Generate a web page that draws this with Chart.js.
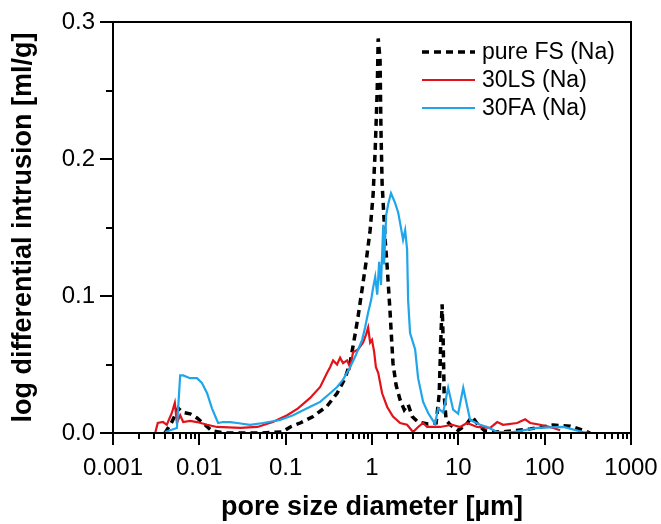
<!DOCTYPE html>
<html>
<head>
<meta charset="utf-8">
<script src="https://cdn.jsdelivr.net/npm/chart.js@4.4.1/dist/chart.umd.min.js"></script>
<style>
  html, body { margin: 0; padding: 0; background: #fff; }
  #wrap { width: 661px; height: 524px; }
</style>
</head>
<body>
<div id="wrap"><canvas id="poreChart" width="661" height="524"></canvas></div>
<script>
// pore size diameter [µm] and log differential intrusion [ml/g]
var fsDiameter = [0.0040, 0.0048, 0.0057, 0.0065, 0.0078, 0.0094, 0.0116, 0.014, 0.020, 0.050, 0.091, 0.113, 0.147, 0.208, 0.302, 0.394, 0.488, 0.557, 0.637, 0.690, 0.768, 0.855, 0.951, 1.03, 1.09, 1.15, 1.18, 1.24, 1.27, 1.31, 1.42, 1.50, 1.62, 1.75, 1.90, 2.12, 2.36, 2.62, 2.92, 3.42, 4.47, 5.53, 6.0, 6.32, 6.49, 6.67, 6.85, 7.22, 8.04, 9.95, 12.3, 14.4, 16.9, 20.4, 30.5, 68, 125, 198, 294, 336];
var fsIntrusion = [0, 0.008, 0.018, 0.015, 0.014, 0.011, 0.006, 0.0015, 0, 0, 0.0007, 0.0044, 0.0073, 0.012, 0.0197, 0.029, 0.040, 0.051, 0.072, 0.085, 0.105, 0.125, 0.148, 0.174, 0.207, 0.251, 0.288, 0.272, 0.221, 0.182, 0.141, 0.121, 0.088, 0.051, 0.035, 0.024, 0.017, 0.021, 0.012, 0.008, 0.0066, 0.0073, 0.028, 0.075, 0.094, 0.068, 0.028, 0.0095, 0.006, 0.002, 0.006, 0.012, 0.006, 0.0015, 0.0007, 0.003, 0.0058, 0.005, 0.0015, 0];

var lsDiameter = [0.0031, 0.0033, 0.0038, 0.0042, 0.0048, 0.0052, 0.0055, 0.0060, 0.0065, 0.0078, 0.0094, 0.0123, 0.016, 0.030, 0.047, 0.071, 0.104, 0.139, 0.192, 0.251, 0.302, 0.327, 0.354, 0.394, 0.427, 0.462, 0.514, 0.557, 0.604, 0.690, 0.789, 0.855, 0.902, 0.951, 1.00, 1.06, 1.11, 1.18, 1.31, 1.50, 1.75, 2.12, 2.55, 2.99, 3.42, 3.91, 4.35, 6.15, 8.47, 10.5, 12.6, 16.5, 23.4, 28.2, 33.0, 48.0, 59.4, 68, 88.7, 116, 151];
var lsIntrusion = [0.0007, 0.0073, 0.008, 0.006, 0.0146, 0.022, 0.0073, 0.013, 0.008, 0.0088, 0.008, 0.006, 0.0044, 0.0037, 0.0044, 0.008, 0.013, 0.018, 0.0256, 0.0336, 0.044, 0.048, 0.053, 0.050, 0.055, 0.051, 0.053, 0.048, 0.059, 0.061, 0.066, 0.072, 0.077, 0.066, 0.068, 0.059, 0.048, 0.044, 0.029, 0.019, 0.012, 0.0073, 0.006, 0.0007, 0.0044, 0.0073, 0.0044, 0.0044, 0.006, 0.0044, 0.0073, 0.0044, 0.0037, 0.008, 0.006, 0.0073, 0.010, 0.0073, 0.006, 0.0044, 0.002];

var faDiameter = [0.0040, 0.0046, 0.0055, 0.0060, 0.0065, 0.0078, 0.0094, 0.0107, 0.0123, 0.014, 0.0165, 0.0188, 0.0227, 0.0274, 0.0387, 0.0547, 0.086, 0.122, 0.177, 0.251, 0.327, 0.394, 0.462, 0.557, 0.637, 0.768, 0.832, 0.902, 0.977, 1.03, 1.09, 1.15, 1.21, 1.27, 1.35, 1.38, 1.46, 1.54, 1.66, 1.85, 2.01, 2.12, 2.29, 2.42, 2.55, 2.62, 2.76, 3.16, 3.42, 3.91, 4.47, 5.38, 5.83, 6.67, 7.62, 8.71, 9.95, 11.4, 12.6, 13.7, 17.9, 21.6, 28.2, 43.2, 81.8, 164, 279, 336];
var faIntrusion = [0.0007, 0.002, 0.0037, 0.042, 0.042, 0.040, 0.040, 0.0366, 0.029, 0.018, 0.0073, 0.008, 0.008, 0.0073, 0.006, 0.0073, 0.0095, 0.013, 0.018, 0.0227, 0.029, 0.0336, 0.039, 0.048, 0.0556, 0.068, 0.077, 0.088, 0.097, 0.106, 0.114, 0.101, 0.125, 0.108, 0.152, 0.123, 0.159, 0.167, 0.175, 0.168, 0.161, 0.153, 0.141, 0.148, 0.134, 0.097, 0.073, 0.061, 0.040, 0.0227, 0.0146, 0.0066, 0.018, 0.015, 0.033, 0.017, 0.014, 0.033, 0.020, 0.0095, 0.006, 0.0044, 0.0007, 0.0007, 0.0037, 0.0044, 0.0007, 0];

var seriesLabels = ['pure FS (Na)', '30LS (Na)', '30FA (Na)'];
var xTitle = 'pore size diameter [µm]';
var yTitle = 'log differential intrusion [ml/g]';

var colors = {
    black: '#000000',
    red:   '#e2121a',
    blue:  '#1fa5ea'
};

var FONT = '"Liberation Sans", Arial, sans-serif';

function toPoints(xs, ys) {
    return xs.map(function(x, i) { return {x: x, y: ys[i]}; });
}

function isDecade(v) {
    var l = Math.log10(v);
    return Math.abs(l - Math.round(l)) < 1e-6;
}

function isTenth(v) {
    return Math.abs(v * 10 - Math.round(v * 10)) < 1e-6;
}

// frame, outward ticks and the legend box
var framePlugin = {
    id: 'frame',
    afterDraw: function(chart) {
        var ctx = chart.ctx;
        var a = chart.chartArea;
        var xs = chart.scales.x, ys = chart.scales.y;
        ctx.save();
        ctx.strokeStyle = '#000';
        ctx.lineWidth = 2;
        ctx.strokeRect(a.left, a.top, a.right - a.left, a.bottom - a.top);

        ctx.beginPath();
        xs.ticks.forEach(function(t) {
            var px = Math.round(xs.getPixelForValue(t.value));
            var len = isDecade(t.value) ? 12 : 6;
            ctx.moveTo(px, a.bottom);
            ctx.lineTo(px, a.bottom + len);
        });
        ys.ticks.forEach(function(t) {
            var py = Math.round(ys.getPixelForValue(t.value));
            var len = isTenth(t.value) ? 13 : 7;
            ctx.moveTo(a.left, py);
            ctx.lineTo(a.left - len, py);
        });
        ctx.stroke();

        // legend
        var lx = 422, lw = 53, ly = 52, gap = 28;
        ctx.font = '23px ' + FONT;
        ctx.textBaseline = 'middle';
        ctx.fillStyle = '#000';
        chart.data.datasets.forEach(function(ds, i) {
            var y = ly + i * gap;
            ctx.beginPath();
            ctx.strokeStyle = ds.borderColor;
            ctx.lineWidth = ds.borderWidth;
            ctx.setLineDash(ds.borderDash || []);
            ctx.moveTo(lx, y);
            ctx.lineTo(lx + lw, y);
            ctx.stroke();
            ctx.setLineDash([]);
            ctx.fillText(ds.label, lx + lw + 7, y + 1);
        });
        ctx.restore();
    }
};

var config = {
    type: 'line',
    data: {
        datasets: [{
            label: seriesLabels[0],
            data: toPoints(fsDiameter, fsIntrusion),
            borderColor: colors.black,
            borderWidth: 3.5,
            borderDash: [7, 5],
            order: 3
        }, {
            label: seriesLabels[1],
            data: toPoints(lsDiameter, lsIntrusion),
            borderColor: colors.red,
            borderWidth: 2.2,
            order: 2
        }, {
            label: seriesLabels[2],
            data: toPoints(faDiameter, faIntrusion),
            borderColor: colors.blue,
            borderWidth: 2.2,
            order: 1
        }]
    },
    options: {
        responsive: false,
        animation: false,
        layout: { padding: { top: 22, right: 30, left: 0, bottom: 0 } },
        elements: { point: { radius: 0 }, line: { tension: 0, fill: false } },
        plugins: {
            legend: { display: false },
            tooltip: { enabled: false }
        },
        scales: {
            x: {
                type: 'logarithmic',
                min: 0.001,
                max: 1000,
                grid: { display: false, drawTicks: false },
                border: { display: false },
                afterFit: function(scale) {
                    scale.height = 91;
                    scale.paddingLeft = 0;
                    scale.paddingRight = 0;
                },
                ticks: {
                    autoSkip: false,
                    maxRotation: 0,
                    padding: 21,
                    color: '#000',
                    font: { family: FONT, size: 24 },
                    callback: function(v) {
                        if (!isDecade(v)) return '';
                        var e = Math.round(Math.log10(v));
                        return e < 0 ? v.toFixed(-e) : String(Math.round(v));
                    }
                },
                title: {
                    display: true,
                    text: xTitle,
                    color: '#000',
                    padding: { top: 3, bottom: 0 },
                    font: { family: FONT, size: 27, weight: 'bold' }
                }
            },
            y: {
                min: 0,
                max: 0.3,
                grid: { display: false, drawTicks: false },
                border: { display: false },
                afterFit: function(scale) {
                    scale.width = 113;
                    scale.paddingTop = 0;
                    scale.paddingBottom = 0;
                },
                ticks: {
                    stepSize: 0.05,
                    autoSkip: false,
                    padding: 18,
                    color: '#000',
                    font: { family: FONT, size: 24 },
                    callback: function(v) { return isTenth(v) ? v.toFixed(1) : ''; }
                },
                title: {
                    display: true,
                    text: yTitle,
                    color: '#000',
                    padding: { top: 7, bottom: 0 },
                    font: { family: FONT, size: 27, weight: 'bold' }
                }
            }
        }
    },
    plugins: [framePlugin]
};

var chart = new Chart(document.getElementById('poreChart').getContext('2d'), config);
</script>
</body>
</html>
